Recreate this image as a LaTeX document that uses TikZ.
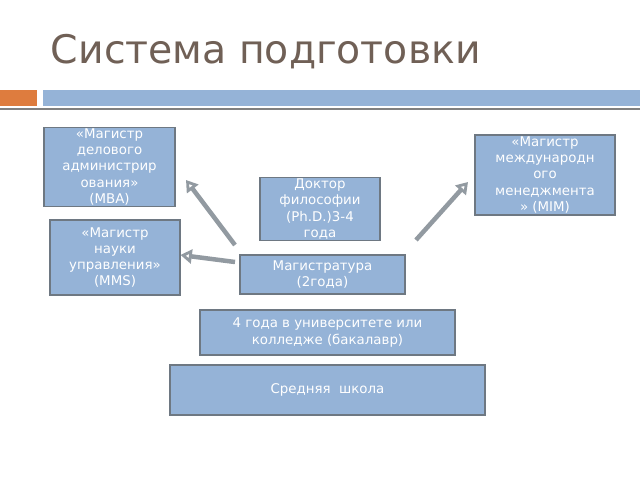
\documentclass[tikz,border=0pt]{standalone}
\usepackage{fontspec}
\setmainfont{DejaVu Sans}
\usetikzlibrary{arrows.meta}
\definecolor{boxblue}{RGB}{149,179,215}
\definecolor{boxedge}{RGB}{110,120,130}
\definecolor{titlecol}{RGB}{112,96,86}
\definecolor{barorange}{RGB}{222,124,62}
\tikzset{
  levelbox/.style={draw=boxedge, fill=boxblue, line width=0.8pt, inner sep=1pt, align=center, text=white, font=\fontsize{9.5}{11.5}\selectfont},
  bigarrow/.style={line width=3.2pt, draw=boxedge!75, -{Triangle[open,length=8pt,width=10pt]}},
}
\begin{document}
\begin{tikzpicture}[x=0.025cm,y=-0.025cm]
\useasboundingbox (0,0) rectangle (640,480);
\fill[white] (0,0) rectangle (640,480);

% title and bar
\node[anchor=west, text=titlecol, font=\fontsize{28}{32}\selectfont] (title) at (46,52) {Система подготовки};
\fill[barorange] (0,90) rectangle (37,106);
\fill[boxblue] (43,90) rectangle (640,106);
\draw[gray, line width=1pt] (0,109) -- (640,109);

% boxes
\node[levelbox, minimum width=131*0.025cm, minimum height=74*0.025cm] (mba) at (109.5,167) {«Магистр\\делового\\администрир\\ования»\\(MBA)};
\node[levelbox, minimum width=140*0.025cm, minimum height=80*0.025cm] (mim) at (545,175) {«Магистр\\международн\\ого\\менеджмента\\» (MIM)};
\node[levelbox, minimum width=120*0.025cm, minimum height=60*0.025cm] (phd) at (320,209) {Доктор\\философии\\(Ph.D.)3-4\\года};
\node[levelbox, minimum width=130*0.025cm, minimum height=75*0.025cm] (mms) at (115,257.5) {«Магистр\\науки\\управления»\\(MMS)};
\node[levelbox, minimum width=165*0.025cm, minimum height=39*0.025cm] (mag) at (322.5,274.5) {Магистратура\\(2года)};
\node[levelbox, minimum width=255*0.025cm, minimum height=45*0.025cm] (bach) at (327.5,332.5) {4 года в университете или\\колледже (бакалавр)};
\node[levelbox, minimum width=315*0.025cm, minimum height=50*0.025cm] (school) at (327.5,390) {Средняя\ \ школа};

% arrows
\coordinate (s1) at (235,245);
\coordinate (s2) at (235,262);
\coordinate (s3) at (416,240);
\draw[bigarrow] (s1) -- (186,180);
\draw[bigarrow] (s2) -- (mms.east|-0,255);
\draw[bigarrow] (s3) -- (468,182);
\end{tikzpicture}
\end{document}
